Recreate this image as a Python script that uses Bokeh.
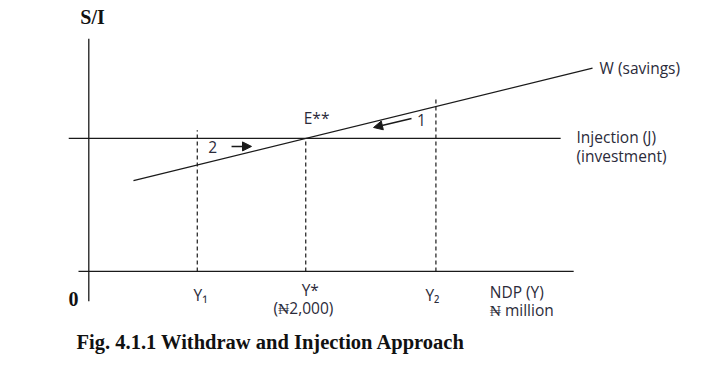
from bokeh.plotting import figure
from bokeh.models import Range1d, Arrow, NormalHead
from bokeh.core.properties import value
from bokeh.embed import file_html
from bokeh.resources import INLINE

# ---- data (economic units) ----
Y_star = 2000          # equilibrium NDP (N million)
Y1 = 1000
Y2 = 3200
J = 400                # injection (investment), constant
W_intercept = 240      # savings function W = a + b*Y
W_slope = 0.08
W_span = [412, 4644]   # NDP range over which W is drawn
J_span = [-185, 4350]
x_axis_span = [-95, 4470]
y_axis_span = [-90, 700]

def W(y):
    return W_intercept + W_slope * y

p = figure(width=704, height=354, output_backend="svg", toolbar_location=None,
           x_range=Range1d(-814, 5676), y_range=Range1d(-250, 815),
           min_border=0, background_fill_color="white", border_fill_color="white")
p.axis.visible = False
p.grid.visible = False
p.outline_line_color = None

ink = "#1a1a1a"
lab = "#2b2b3a"

# axes
p.line(x_axis_span, [0, 0], line_color=ink, line_width=1.3)
p.line([0, 0], y_axis_span, line_color=ink, line_width=1.3)
# injection line
p.line(J_span, [J, J], line_color=ink, line_width=1.3)
# savings line
p.line(W_span, [W(W_span[0]), W(W_span[1])], line_color=ink, line_width=1.3)

# dashed verticals
for yv in [Y1, Y_star, Y2]:
    top = max(J, W(yv)) + (0 if yv == Y_star else 25)
    p.line([yv, yv], [0, top], line_color=ink, line_width=1.2, line_dash="4 3")

# arrows
p.add_layout(Arrow(end=NormalHead(size=9, fill_color=ink, line_color=ink),
                   x_start=Y1 + 316, y_start=J - 24, x_end=Y1 + 500, y_end=J - 24,
                   line_color=ink, line_width=1.5))
p.add_layout(Arrow(end=NormalHead(size=9, fill_color=ink, line_color=ink),
                   x_start=Y2 - 225, y_start=W(Y2) - 36, x_end=Y2 - 575, y_end=W(Y2) - 63,
                   line_color=ink, line_width=1.5))

sans = value("Open Sans")
fs = "15.5px"

def t(x, y, s, align="center", base="middle", font=sans, size=fs, style="normal", color=lab):
    p.text([x], [y], text=[s], text_align=align, text_baseline=base,
           text_font=font, text_font_size=size, text_font_style=style, text_color=color)

t(Y_star + 100, J + 63, "E**")
t(Y2 - 134, W(Y2) - 42, "1")
t(Y1 + 141, J - 27, "2")
t(Y1 + 31, -72, "Y\u2081")
t(Y_star + 42, -57, "Y*")
t(Y_star - 297, -111, "(\u20a62,000)", align="left")
t(Y2 - 32, -72, "Y\u2082")
t(3696, -63, "NDP (Y)", align="left")
t(3696, -117, "\u20a6 million", align="left")
t(4709, 613, "W (savings)", align="left")
t(4496, 403, "Injection (J)", align="left")
t(4496, 346, "(investment)", align="left")

serif = value("Liberation Serif")
t(34, 765, "S/I", font=serif, size="20px", style="bold", color="#111111")
t(-141, -84, "0", font=serif, size="20px", style="bold", color="#111111")
t(-113, -213, "Fig. 4.1.1 Withdraw and Injection Approach", align="left",
  font=serif, size="20.5px", style="bold", color="#111111")

open("out.html", "w").write(file_html(p, INLINE))
